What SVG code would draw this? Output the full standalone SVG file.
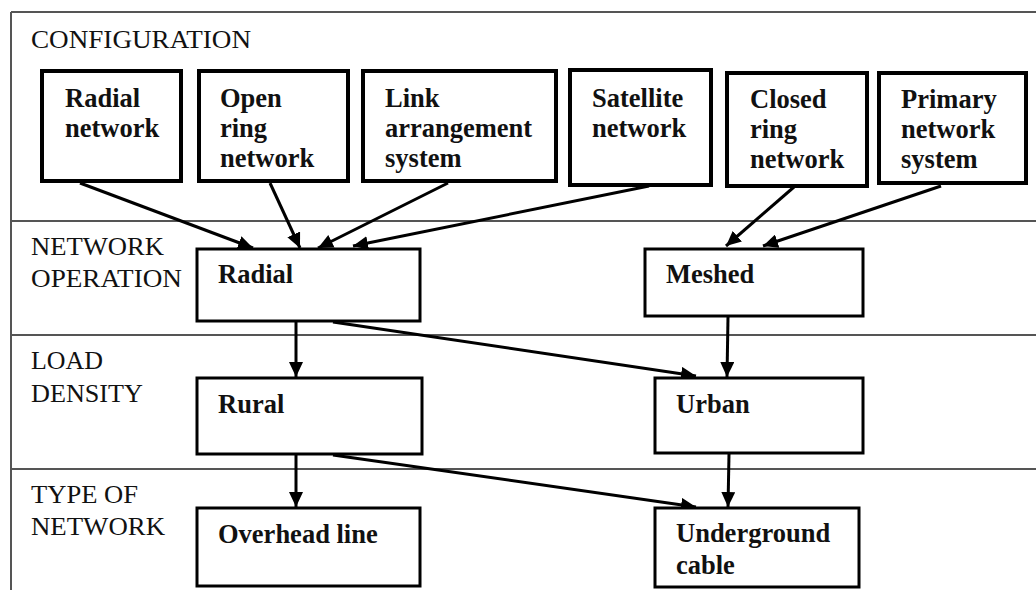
<svg xmlns="http://www.w3.org/2000/svg" width="1036" height="590" viewBox="0 0 1036 590">
  <defs>
    <marker id="arrow" markerUnits="userSpaceOnUse" markerWidth="16" markerHeight="14" refX="15" refY="7" orient="auto">
      <path d="M0,0 L15,7 L0,14 z" fill="#000"/>
    </marker>
    <style>
      .frame { stroke: #555; stroke-width: 2; fill: none; }
      .lane { font-family: 'Liberation Serif', 'DejaVu Serif', serif; font-size: 26px; fill: #111; }
      .top { fill: #fff; stroke: #000; stroke-width: 4; }
      .mid { fill: #fff; stroke: #000; stroke-width: 3; }
      .lbl { font-family: 'Liberation Serif', 'DejaVu Serif', serif; font-size: 26.5px; font-weight: bold; fill: #111; }
      .conn { stroke: #000; stroke-width: 3; fill: none; marker-end: url(#arrow); }
    </style>
  </defs>
  <rect width="1036" height="590" fill="#fff"/>

  <!-- swimlane frame -->
  <g id="frame">
    <path class="frame" d="M11,12 H1036 M11,12 V590 M11,221 H1036 M11,335 H1036 M11,469 H1036"/>
    <text class="lane" x="31" y="48" textLength="220" lengthAdjust="spacingAndGlyphs">CONFIGURATION</text>
    <text class="lane" x="31" y="255" textLength="133" lengthAdjust="spacingAndGlyphs">NETWORK</text>
    <text class="lane" x="31" y="287" textLength="151" lengthAdjust="spacingAndGlyphs">OPERATION</text>
    <text class="lane" x="31" y="369" textLength="72" lengthAdjust="spacingAndGlyphs">LOAD</text>
    <text class="lane" x="31" y="402" textLength="112" lengthAdjust="spacingAndGlyphs">DENSITY</text>
    <text class="lane" x="31" y="503" textLength="107" lengthAdjust="spacingAndGlyphs">TYPE OF</text>
    <text class="lane" x="31" y="535" textLength="134" lengthAdjust="spacingAndGlyphs">NETWORK</text>
  </g>

  <!-- connectors -->
  <g id="connectors">
    <line class="conn" x1="80" y1="183" x2="253" y2="248"/>
    <line class="conn" x1="270" y1="183" x2="300" y2="248"/>
    <line class="conn" x1="448" y1="183" x2="318" y2="248"/>
    <line class="conn" x1="649" y1="186" x2="353" y2="246"/>
    <line class="conn" x1="794" y1="187" x2="726" y2="246"/>
    <line class="conn" x1="941" y1="186" x2="763" y2="246"/>
    <line class="conn" x1="296" y1="322" x2="296" y2="377"/>
    <line class="conn" x1="333" y1="322" x2="696" y2="376"/>
    <line class="conn" x1="728" y1="317" x2="727" y2="377"/>
    <line class="conn" x1="296" y1="455" x2="296" y2="507"/>
    <line class="conn" x1="333" y1="455" x2="696" y2="507"/>
    <line class="conn" x1="729" y1="454" x2="728" y2="507"/>
  </g>

  <!-- configuration nodes -->
  <g id="radial-network">
    <rect class="top" x="42" y="71" width="139" height="110"/>
    <text class="lbl" x="65" y="107">Radial</text>
    <text class="lbl" x="65" y="137">network</text>
  </g>
  <g id="open-ring-network">
    <rect class="top" x="199" y="71" width="149" height="110"/>
    <text class="lbl" x="220" y="107">Open</text>
    <text class="lbl" x="220" y="137">ring</text>
    <text class="lbl" x="220" y="167">network</text>
  </g>
  <g id="link-arrangement-system">
    <rect class="top" x="363" y="71" width="193" height="110"/>
    <text class="lbl" x="385" y="107">Link</text>
    <text class="lbl" x="385" y="137">arrangement</text>
    <text class="lbl" x="385" y="167">system</text>
  </g>
  <g id="satellite-network">
    <rect class="top" x="570" y="70" width="141" height="115"/>
    <text class="lbl" x="592" y="107">Satellite</text>
    <text class="lbl" x="592" y="137">network</text>
  </g>
  <g id="closed-ring-network">
    <rect class="top" x="727" y="73" width="140" height="113"/>
    <text class="lbl" x="750" y="108">Closed</text>
    <text class="lbl" x="750" y="138">ring</text>
    <text class="lbl" x="750" y="168">network</text>
  </g>
  <g id="primary-network-system">
    <rect class="top" x="879" y="73" width="147" height="110"/>
    <text class="lbl" x="901" y="108">Primary</text>
    <text class="lbl" x="901" y="138">network</text>
    <text class="lbl" x="901" y="168">system</text>
  </g>

  <!-- network operation -->
  <g id="op-radial">
    <rect class="mid" x="197" y="249" width="223" height="72"/>
    <text class="lbl" x="218" y="283">Radial</text>
  </g>
  <g id="op-meshed">
    <rect class="mid" x="645" y="249" width="218" height="67"/>
    <text class="lbl" x="666" y="283">Meshed</text>
  </g>

  <!-- load density -->
  <g id="load-rural">
    <rect class="mid" x="197" y="378" width="225" height="76"/>
    <text class="lbl" x="218" y="413">Rural</text>
  </g>
  <g id="load-urban">
    <rect class="mid" x="655" y="378" width="208" height="75"/>
    <text class="lbl" x="676" y="413">Urban</text>
  </g>

  <!-- type of network -->
  <g id="overhead-line">
    <rect class="mid" x="197" y="508" width="223" height="78"/>
    <text class="lbl" x="218" y="543">Overhead line</text>
  </g>
  <g id="underground-cable">
    <rect class="mid" x="655" y="508" width="204" height="79"/>
    <text class="lbl" x="676" y="542">Underground</text>
    <text class="lbl" x="676" y="574">cable</text>
  </g>
</svg>
